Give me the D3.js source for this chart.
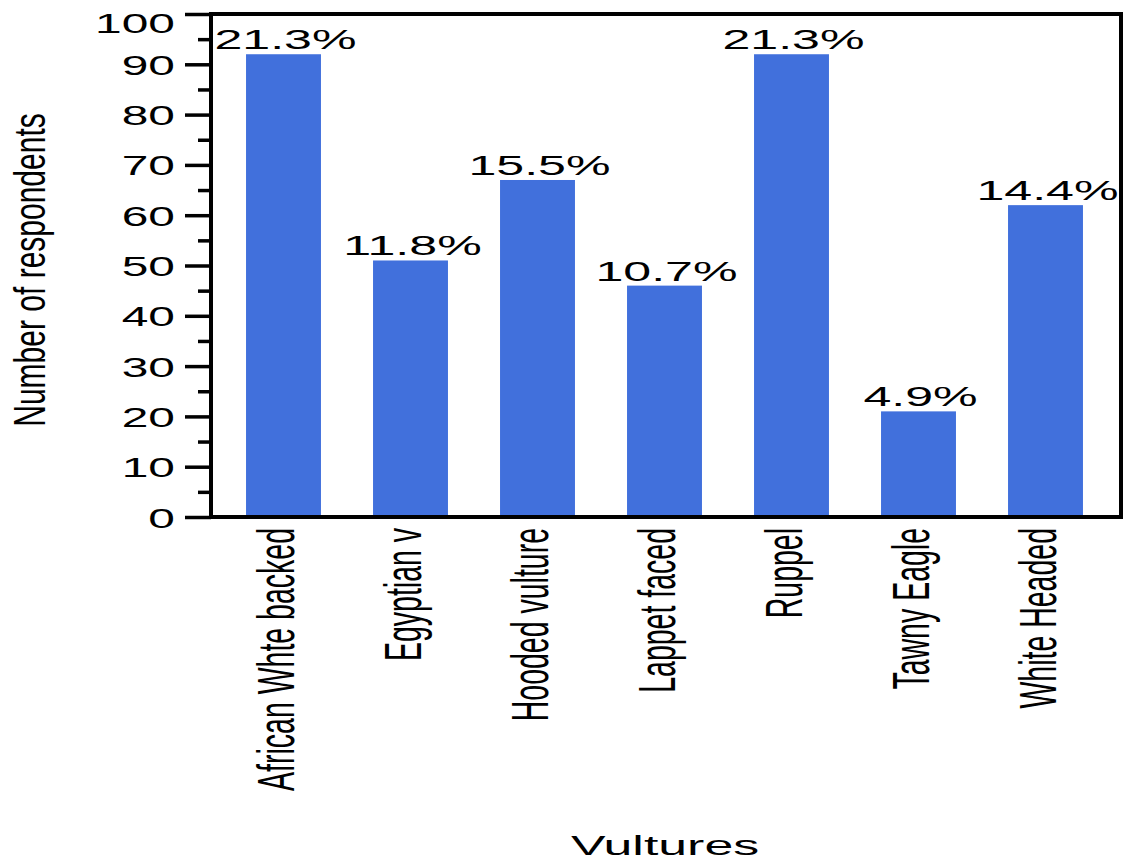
<!DOCTYPE html>
<html>
<head>
<meta charset="utf-8">
<script src="https://cdn.jsdelivr.net/npm/d3@7"></script>
<style>
  body { margin: 0; background: #fff; }
  svg { display: block; font-family: "Liberation Sans", Arial, sans-serif; }
</style>
</head>
<body>
<div id="chart"></div>
<script>
// data
const categories = ["African Whte backed", "Egyptian v", "Hooded vulture", "Lappet faced", "Ruppel", "Tawny Eagle", "White Headed"];
const respondents = [92, 51, 67, 46, 92, 21, 62];
const percentLabels = ["21.3%", "11.8%", "15.5%", "10.7%", "21.3%", "4.9%", "14.4%"];
const yTickValues = d3.range(0, 101, 5);
const yLabelValues = [0, 10, 20, 30, 40, 50, 60, 70, 80, 90, 100];

const width = 1124, height = 863;
const margin = {top: 14, right: 3, bottom: 346, left: 211};
const barColor = "#4170dc";

const svg = d3.select("#chart").append("svg")
    .attr("width", width)
    .attr("height", height)
    .attr("viewBox", [0, 0, width, height]);

const x = d3.scaleBand()
    .domain(categories)
    .range([220, 1109])
    .paddingInner(0.41)
    .paddingOuter(0.205);

const y = d3.scaleLinear()
    .domain([0, 100])
    .range([height - margin.bottom, margin.top]);

// bars
svg.append("g")
  .selectAll("rect")
  .data(categories)
  .join("rect")
    .attr("x", d => x(d))
    .attr("y", (d, i) => y(respondents[i]))
    .attr("width", x.bandwidth())
    .attr("height", (d, i) => y(0) - y(respondents[i]))
    .attr("fill", barColor);

// percent labels over bars (stretched wide like the original)
svg.append("g")
  .selectAll("text")
  .data(categories)
  .join("text")
    .attr("transform", (d, i) => `translate(${x(d) + x.bandwidth() / 2 + 2},${y(respondents[i]) - 5}) scale(1.79,1)`)
    .attr("text-anchor", "middle")
    .attr("font-size", 28)
    .attr("fill", "#000")
    .text((d, i) => percentLabels[i]);

// y axis with major / minor ticks
const yAxis = svg.append("g")
    .attr("transform", `translate(${margin.left},0)`)
    .call(d3.axisLeft(y)
      .tickValues(yTickValues)
      .tickSize(26)
      .tickFormat(d => yLabelValues.includes(d) ? d : ""));

yAxis.select(".domain").remove();
yAxis.selectAll(".tick line")
    .attr("stroke", "#000")
    .attr("stroke-width", 3.5)
    .attr("x2", d => yLabelValues.includes(d) ? -26 : -13);
yAxis.selectAll(".tick text")
    .attr("x", 0)
    .attr("dy", null)
    .attr("y", null)
    .attr("font-size", 28)
    .attr("font-family", null)
    .attr("fill", "#000")
    .attr("transform", d => `translate(-36,${Math.max(0, margin.top + 8 - y(d)) + 10}) scale(1.71,1)`);

// frame
svg.append("rect")
    .attr("x", margin.left)
    .attr("y", margin.top)
    .attr("width", width - margin.right - margin.left)
    .attr("height", y(0) - margin.top)
    .attr("fill", "none")
    .attr("stroke", "#000")
    .attr("stroke-width", 4);

// category labels, rotated
svg.append("g")
  .selectAll("text")
  .data(categories)
  .join("text")
    .attr("transform", d => `translate(${x(d) + x.bandwidth() / 2 + 10},${y(0) + 11}) rotate(-90) scale(1,1.8)`)
    .attr("text-anchor", "end")
    .attr("font-size", 28.5)
    .attr("fill", "#000")
    .text(d => d);

// axis titles
svg.append("text")
    .attr("transform", `translate(45,270) rotate(-90) scale(1,1.45)`)
    .attr("text-anchor", "middle")
    .attr("font-size", 30)
    .attr("fill", "#000")
    .text("Number of respondents");

svg.append("text")
    .attr("transform", `translate(665,855) scale(1.92,1)`)
    .attr("text-anchor", "middle")
    .attr("font-size", 27)
    .attr("fill", "#000")
    .text("Vultures");
</script>
</body>
</html>
